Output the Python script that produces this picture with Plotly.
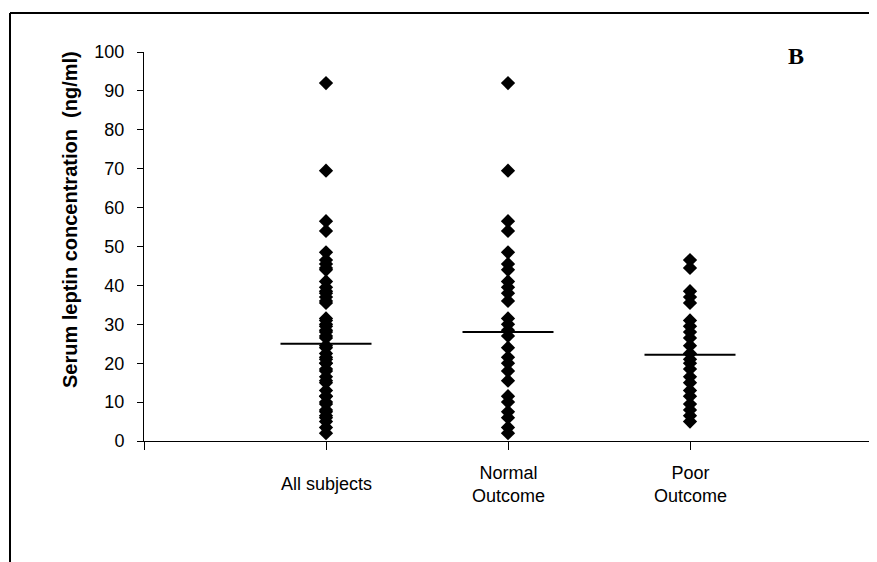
import plotly.graph_objects as go

categories = ["All subjects", "Normal<br>Outcome", "Poor<br>Outcome"]
normal_outcome = [92, 69.5, 56.5, 54, 48.5, 45.5, 44, 41, 39.5, 38, 36, 31.5, 30,
                  28.5, 27, 24, 21.5, 20, 18, 15.5, 11.5, 10, 7.5, 6, 3.5, 2]
poor_outcome = [46.5, 44.5, 38.5, 37, 35.5, 31, 29.5, 28, 26.5, 24.5, 22.5, 21,
                20, 18.5, 16.5, 15, 13, 11.5, 9.5, 8, 6.5, 5]
all_subjects = normal_outcome + poor_outcome
group_means = [25, 28, 22.2]
y_ticks = list(range(0, 101, 10))

groups = [all_subjects, normal_outcome, poor_outcome]
positions = [1, 2, 3]

fig = go.Figure()
for pos, vals in zip(positions, groups):
    fig.add_trace(go.Scatter(
        x=[pos] * len(vals), y=vals, mode="markers",
        marker=dict(symbol="diamond", size=11, color="black"),
        showlegend=False, hoverinfo="y"))
for pos, m in zip(positions, group_means):
    fig.add_trace(go.Scatter(
        x=[pos - 0.25, pos + 0.25], y=[m, m], mode="lines",
        line=dict(color="black", width=2), showlegend=False, hoverinfo="y"))

OFF = 8  # page body offset
W, H = 877, 562
# target screen coords of plot area
SL, SR, ST, SB = 144, 872, 52, 441
L = SL - OFF
T = ST - OFF
pw = SR - SL
ph = SB - ST
R = W - L - pw
B = H - T - ph

def px(x):
    return (x - SL) / pw

def py(y):
    return (SB - y) / ph

fig.update_layout(
    width=W, height=H,
    margin=dict(l=L, r=R, t=T, b=B),
    paper_bgcolor="white", plot_bgcolor="white",
    font=dict(family="Liberation Sans, Arial, sans-serif", size=18, color="black"),
    xaxis=dict(range=[0, 4], tickvals=[0, 1, 2, 3, 4], ticktext=["", "", "", "", ""],
               showgrid=False, zeroline=False, showline=True, linecolor="black",
               linewidth=1, ticks="outside", ticklen=8, tickcolor="black"),
    yaxis=dict(range=[0, 100], tickvals=y_ticks, showgrid=False, zeroline=False,
               showline=True, linecolor="black", linewidth=1, ticks="outside",
               ticklen=6, tickcolor="black", tickfont=dict(size=18),
               ticklabelstandoff=9),
)

# category labels centred vertically like the original
for pos, lab in zip(positions, categories):
    fig.add_annotation(x=pos, xref="x", y=py(484), yref="paper", text=lab,
                       showarrow=False, xanchor="center", yanchor="middle",
                       font=dict(size=18))

fig.add_annotation(x=px(70), y=py(220), xref="paper", yref="paper",
                   text="<b>Serum leptin concentration&nbsp; (ng/ml)</b>",
                   textangle=-90, showarrow=False, font=dict(size=20),
                   xanchor="center", yanchor="middle")

fig.add_annotation(x=px(796), y=py(56), xref="paper", yref="paper",
                   text="<b>B</b>", showarrow=False,
                   font=dict(family="Liberation Serif, Times New Roman, serif", size=24),
                   xanchor="center", yanchor="middle")

# outer frame
fig.add_shape(type="line", xref="paper", yref="paper",
              x0=px(10), x1=px(880), y0=py(13), y1=py(13),
              line=dict(color="black", width=2))
fig.add_shape(type="line", xref="paper", yref="paper",
              x0=px(10), x1=px(10), y0=py(13), y1=py(570),
              line=dict(color="black", width=2))

fig.write_html("out.html")
